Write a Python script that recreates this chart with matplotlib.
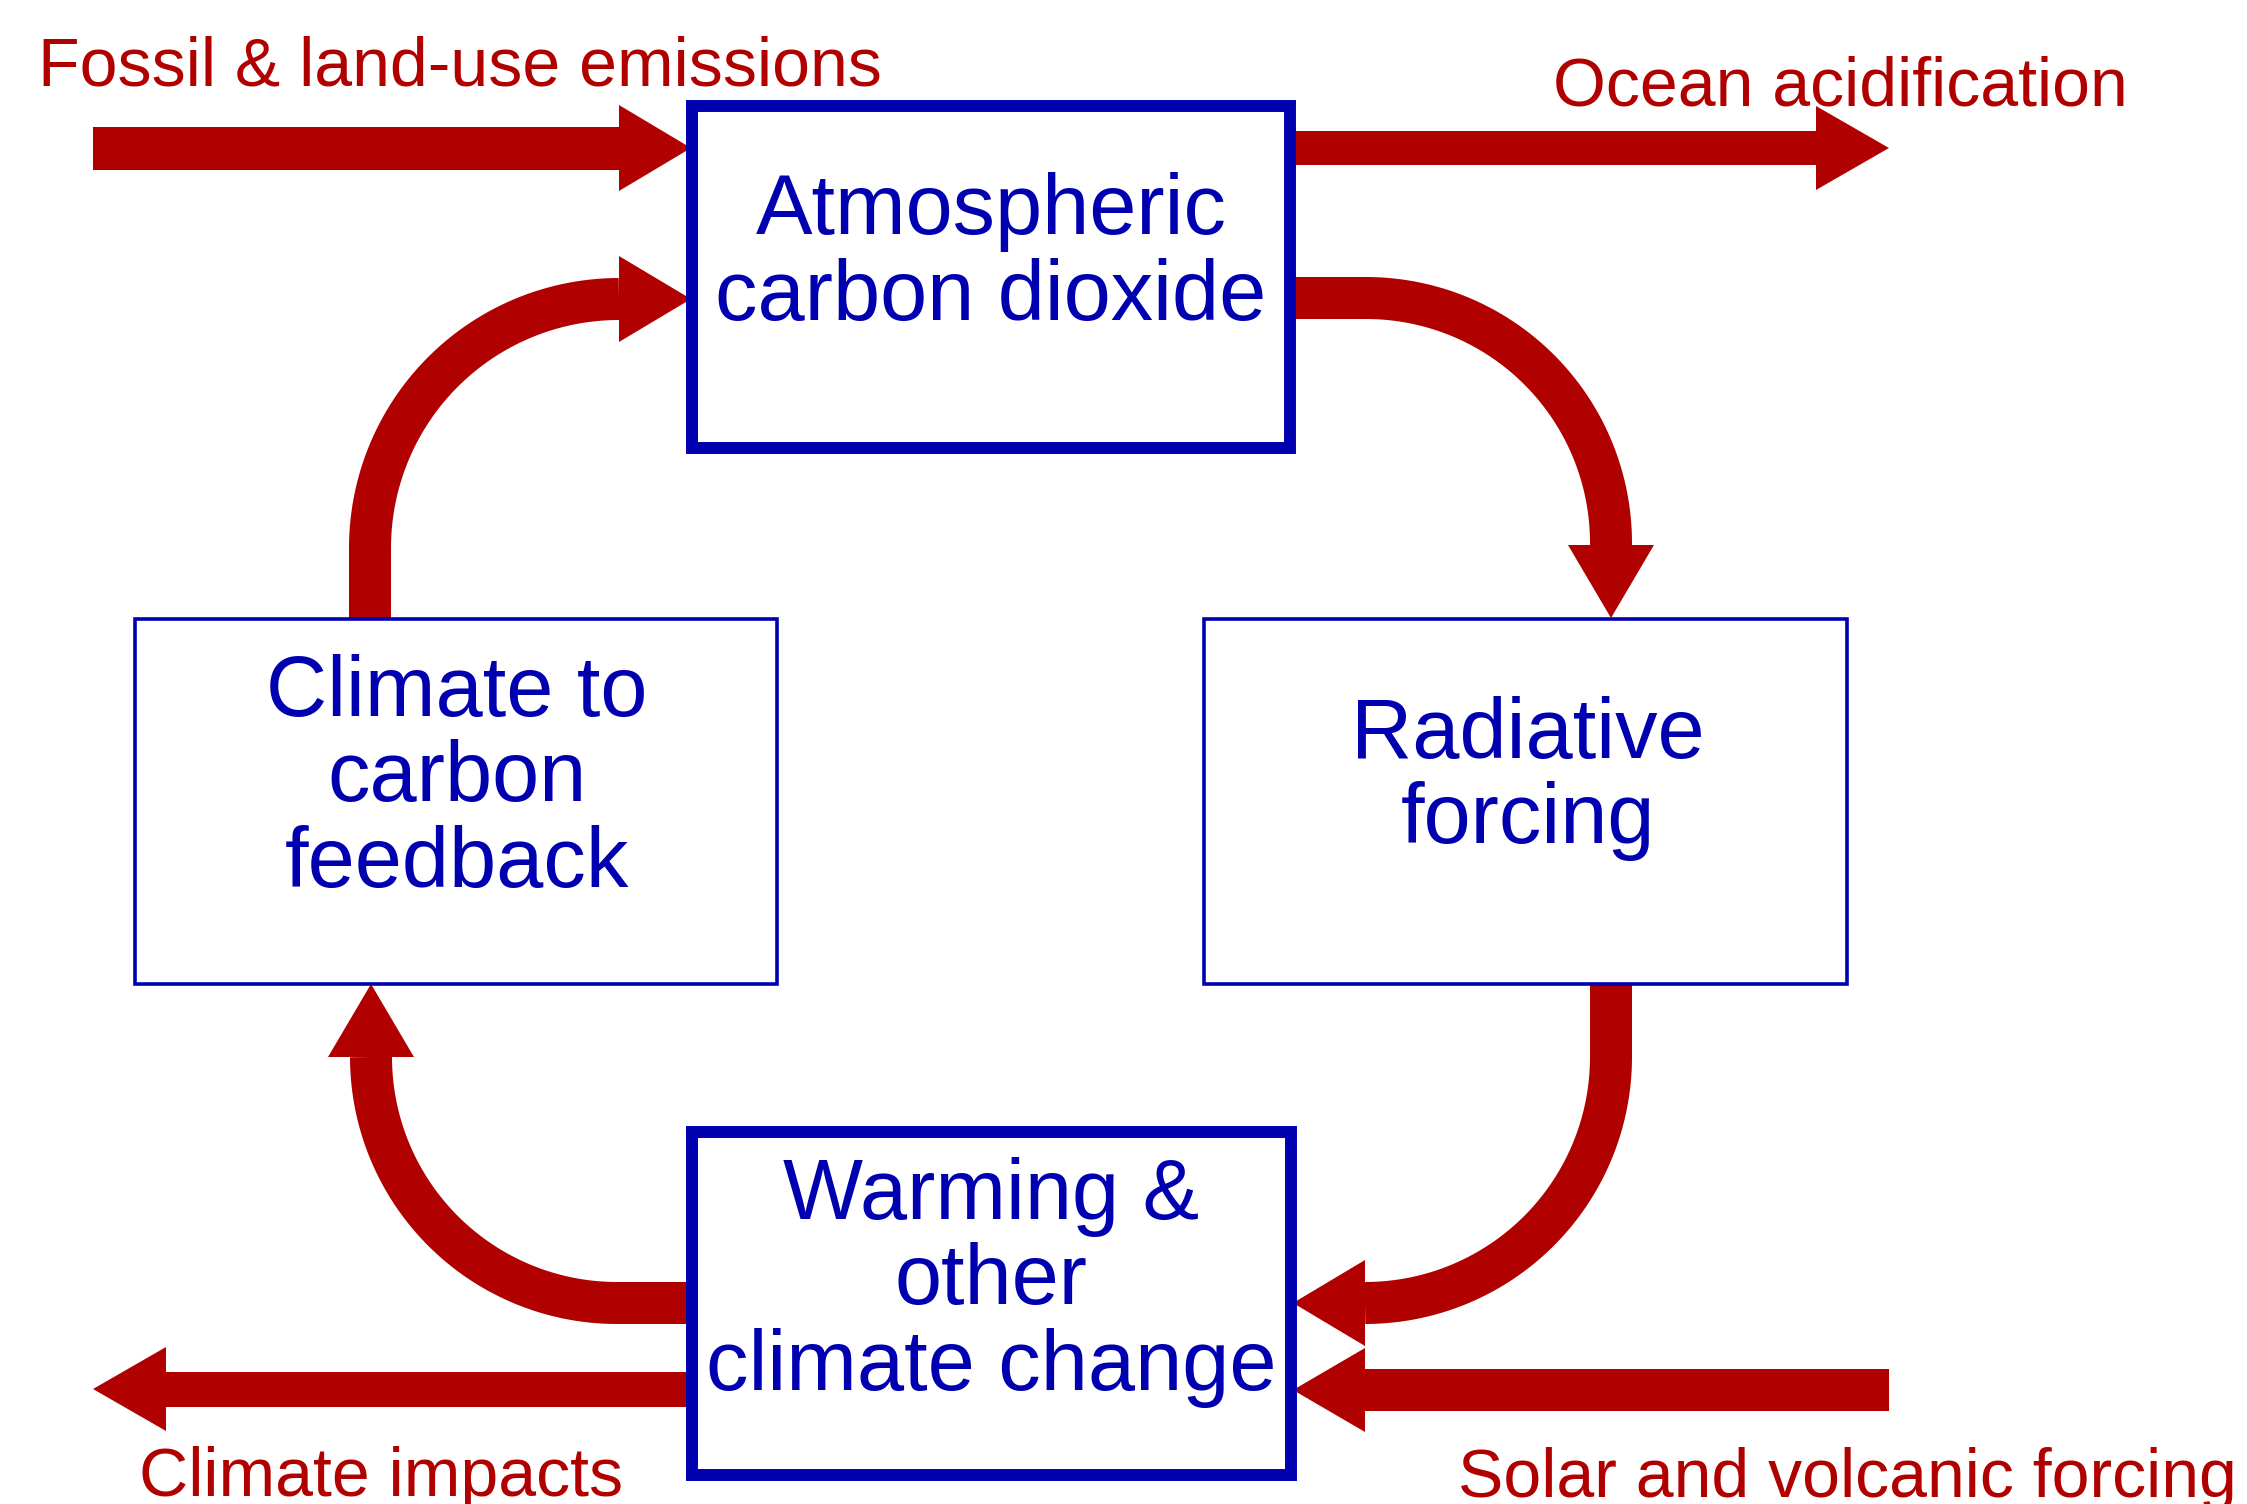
import numpy as np
import matplotlib
matplotlib.use("Agg")
import matplotlib.pyplot as plt
from matplotlib.patches import Polygon, Rectangle

RED = "#b00000"
BLUE = "#0000b0"
FONT = ["Liberation Sans", "DejaVu Sans"]

W, H = 2247, 1504

# ── boxes (pixel coords, y down) ──────────────────────────────────────────────
box_names  = ["atmos", "feedback", "forcing", "warming"]
box_x0     = [692, 135, 1204, 692]
box_x1     = [1290, 777, 1847, 1291]
box_y0     = [106, 619, 619, 1132]
box_y1     = [448, 984, 984, 1475]
box_lw     = [8.6, 2.6, 2.6, 8.6]

box_lines  = [["Atmospheric", "carbon dioxide"],
              ["Climate to", "carbon", "feedback"],
              ["Radiative", "forcing"],
              ["Warming &", "other", "climate change"]]
box_text_x = [991, 457, 1528, 991]
box_base_y = [[234, 320],
              [716, 801, 887],
              [758, 843],
              [1219, 1304, 1390]]

# ── straight arrows: tail, head base, tip, shaft width, head half-width ───────
straight_tail  = [(93, 148), (1290, 148), (692, 1389), (1889, 1390)]
straight_base  = [(619, 148), (1816, 148), (166, 1389), (1365, 1390)]
straight_tip   = [(691, 148), (1889, 148), (93, 1389), (1293, 1390)]
straight_width = [43, 34, 35, 42]
straight_head  = [43, 42, 42, 42]

# ── curved feedback arrows: start, corner, head base, tip, radius ─────────────
curve_start  = [(1290, 298), (1611, 984), (692, 1303), (370, 619)]
curve_corner = [(1611, 298), (1611, 1303), (371, 1303), (370, 299)]
curve_base   = [(1611, 545), (1365, 1303), (371, 1057), (619, 299)]
curve_tip    = [(1611, 618), (1293, 1303), (371, 984), (691, 299)]
curve_radius = [245, 246, 246, 249]
curve_width  = 42
curve_head   = 43

# ── red labels ────────────────────────────────────────────────────────────────
label_text = ["Fossil & land-use emissions", "Ocean acidification",
              "Climate impacts", "Solar and volcanic forcing"]
label_x    = [38, 1553, 139, 1458]
label_y    = [85, 106, 1496, 1497]


def unit(v):
    v = np.asarray(v, float)
    return v / np.hypot(*v)


def elbow(p0, corner, p1, r, n=60):
    p0, corner, p1 = (np.asarray(p, float) for p in (p0, corner, p1))
    d0, d1 = unit(corner - p0), unit(p1 - corner)
    a, b = corner - d0 * r, corner + d1 * r
    c = a + d1 * r
    t = np.linspace(0, np.pi / 2, n)
    arc = c[None] - np.outer(np.cos(t), d1 * r) + np.outer(np.sin(t), d0 * r)
    parts = []
    if np.hypot(*(a - p0)) > 1:
        parts.append(np.linspace(p0, a, 20)[:-1])
    parts.append(arc)
    if np.hypot(*(p1 - b)) > 1:
        parts.append(np.linspace(b, p1, 20)[1:])
    return np.vstack(parts)


def ribbon(pts, width):
    tang = np.gradient(pts, axis=0)
    tang /= np.hypot(tang[:, 0], tang[:, 1])[:, None]
    nrm = np.column_stack([-tang[:, 1], tang[:, 0]])
    left = pts + nrm * width / 2
    right = pts - nrm * width / 2
    return np.vstack([left, right[::-1]])


def head(base, tip, hw):
    base, tip = np.asarray(base, float), np.asarray(tip, float)
    d = unit(tip - base)
    nrm = np.array([-d[1], d[0]])
    return np.array([base + nrm * hw, tip, base - nrm * hw])


fig = plt.figure(figsize=(W / 100, H / 100), dpi=100)
ax = fig.add_axes([0, 0, 1, 1])
ax.set_xlim(0, W)
ax.set_ylim(H, 0)
ax.axis("off")

for t0, b0, tp, w, hw in zip(straight_tail, straight_base, straight_tip,
                             straight_width, straight_head):
    shaft = np.linspace(np.asarray(t0, float), np.asarray(b0, float), 10)
    ax.add_patch(Polygon(ribbon(shaft, w), closed=True, fc=RED, ec="none", zorder=1))
    ax.add_patch(Polygon(head(b0, tp, hw), closed=True, fc=RED, ec="none", zorder=1))

for s, c, b, tp, r in zip(curve_start, curve_corner, curve_base, curve_tip, curve_radius):
    pts = elbow(s, c, b, r)
    ax.add_patch(Polygon(ribbon(pts, curve_width), closed=True, fc=RED, ec="none", zorder=1))
    ax.add_patch(Polygon(head(b, tp, curve_head), closed=True, fc=RED, ec="none", zorder=1))

for x0, x1, y0, y1, lw in zip(box_x0, box_x1, box_y0, box_y1, box_lw):
    ax.add_patch(Rectangle((x0, y0), x1 - x0, y1 - y0, fill=False,
                           ec=BLUE, lw=lw, joinstyle="miter", zorder=2))

for lines, x, ys in zip(box_lines, box_text_x, box_base_y):
    for txt, y in zip(lines, ys):
        ax.text(x, y, txt, color=BLUE, fontsize=61, family=FONT,
                ha="center", va="baseline", zorder=3)

for txt, x, y in zip(label_text, label_x, label_y):
    ax.text(x, y, txt, color=RED, fontsize=49, family=FONT,
            ha="left", va="baseline", zorder=3)

fig.savefig("out.png", dpi=100, facecolor="white")
